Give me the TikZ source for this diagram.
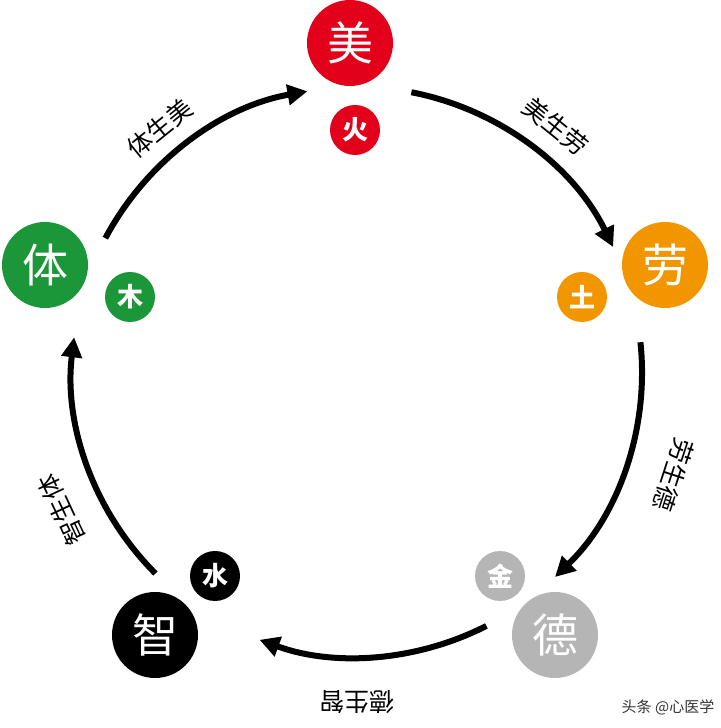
\documentclass[tikz,border=0pt]{standalone}
\usepackage{fontspec}
\setmainfont{Noto Sans CJK SC}
\usetikzlibrary{arrows.meta}
\definecolor{cred}{HTML}{E2001A}
\definecolor{corange}{HTML}{F29600}
\definecolor{cgray}{HTML}{B5B5B5}
\definecolor{cgreen}{HTML}{1B9638}
\begin{document}
\begin{tikzpicture}[x=1pt,y=1pt,
 big/.style={circle,fill=#1,minimum size=86pt,inner sep=0pt,text=white,font=\fontsize{46}{46}\selectfont},
 small/.style={circle,fill=#1,minimum size=50pt,inner sep=0pt,text=white,font=\bfseries\fontsize{26}{26}\selectfont},
 arr/.style={line width=6pt,-{Triangle[length=20pt,width=20pt]}},
 lab/.style={font=\fontsize{25}{25}\selectfont,text=black}]
\useasboundingbox (0,0) rectangle (720,728);
\coordinate (c) at (357,356);
\node[big=cred] (mei) at (350,685) {美};
\node[small=cred] (huo) at (355,598) {火};
\node[big=corange] (lao) at (665,463) {劳};
\node[small=corange] (tu) at (582,431) {土};
\node[big=cgray] (de) at (555,93) {德};
\node[small=cgray] (jin) at (500,152) {金};
\node[big=black] (zhi) at (155,93) {智};
\node[small=black] (shui) at (215,152) {水};
\node[big=cgreen] (ti) at (45,463) {体};
\node[small=cgreen] (mu) at (130,431) {木};
\draw[arr] ([shift={(152:285)}]c) arc[start angle=152,end angle=100,radius=285];
\draw[arr] ([shift={(79:285)}]c) arc[start angle=79,end angle=26,radius=285];
\draw[arr] ([shift={(6:285)}]c) arc[start angle=6,end angle=-46,radius=285];
\draw[arr] ([shift={(-63:285)}]c) arc[start angle=-63,end angle=-110,radius=285];
\draw[arr] ([shift={(-135:285)}]c) arc[start angle=-135,end angle=-187,radius=285];
\node[lab,rotate=39] (l1) at ([shift={(129:314)}]c) {体生美};
\node[lab,rotate=-39] (l2) at ([shift={(51:316)}]c) {美生劳};
\node[lab,rotate=-108] (l3) at ([shift={(-18:333)}]c) {劳生德};
\node[lab,rotate=180] (l4) at ([shift={(-90:330)}]c) {德生智};
\node[lab,rotate=115] (l5) at ([shift={(-155:326)}]c) {智生体};
\node[font=\fontsize{15}{15}\selectfont,text=black!80] (wm) at (668,21) {头条 @心医学};
\end{tikzpicture}
\end{document}
